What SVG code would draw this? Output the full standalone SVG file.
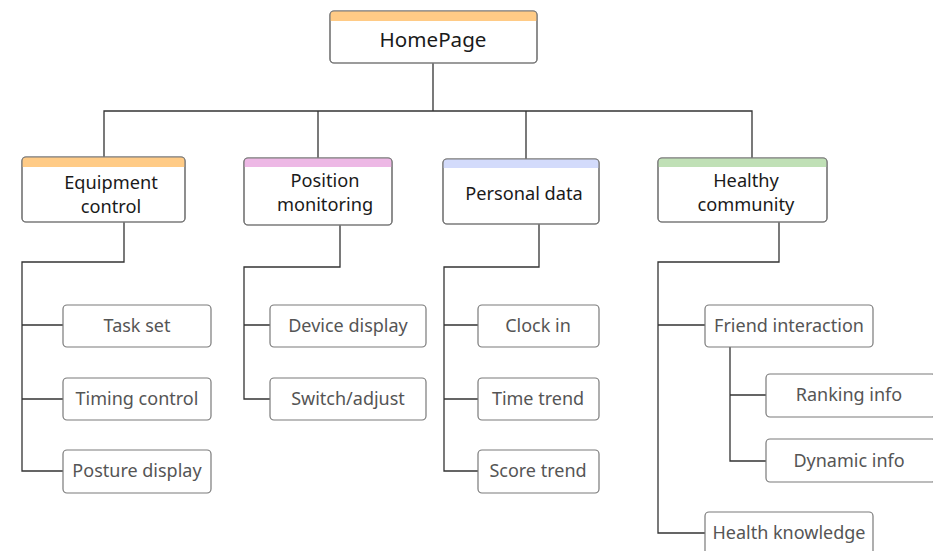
<svg xmlns="http://www.w3.org/2000/svg" width="933" height="551" viewBox="0 0 933 551">
<defs>
<style>
.bg{fill:#ffffff}
.box{fill:#ffffff;stroke:#7a7a7a;stroke-width:1.2}
.t0{font-family:"Noto Sans","Open Sans",sans-serif;font-size:20.6px;fill:#1a1a1a;text-anchor:middle}
.t1{font-family:"Noto Sans","Open Sans",sans-serif;font-size:18.2px;fill:#1a1a1a;text-anchor:middle}
.t2{font-family:"Noto Sans","Open Sans",sans-serif;font-size:18px;fill:#555555;text-anchor:middle}
.ln{fill:none;stroke:#333333;stroke-width:1.3}
</style>
<clipPath id="c0"><rect x="330" y="11" width="207" height="52" rx="4"/></clipPath>
<clipPath id="c1"><rect x="22" y="157" width="163" height="65" rx="4"/></clipPath>
<clipPath id="c2"><rect x="244" y="158" width="148" height="67" rx="4"/></clipPath>
<clipPath id="c3"><rect x="443" y="159" width="156" height="65" rx="4"/></clipPath>
<clipPath id="c4"><rect x="658" y="158" width="169" height="64" rx="4"/></clipPath>
</defs>
<rect class="bg" x="0" y="0" width="933" height="551"/>

<g id="connectors">
<path class="ln" d="M433 63 V111 M104 157 V111 H752 V158 M318 111 V158 M526 111 V159"/>
<path class="ln" d="M124 222 V262 H22 V471 H63 M22 325 H63 M22 399 H63"/>
<path class="ln" d="M340 225 V267 H244 V399 H270 M244 325 H270"/>
<path class="ln" d="M539 224 V267 H444 V471 H478 M444 325 H478 M444 399 H478"/>
<path class="ln" d="M779 222 V262 H658 V533 H705 M658 325 H705"/>
<path class="ln" d="M730 347 V461 H766 M730 395 H766"/>
</g>

<g id="homepage">
<rect class="box" x="330" y="11" width="207" height="52" rx="4"/>
<rect x="330" y="11" width="207" height="10" fill="#FFCB86" clip-path="url(#c0)"/>
<rect x="330" y="11" width="207" height="52" rx="4" fill="none" stroke="#7a7a7a" stroke-width="1.2"/>
<text class="t0" x="433" y="47">HomePage</text>
</g>

<g id="equipment-control">
<rect class="box" x="22" y="157" width="163" height="65" rx="4"/>
<rect x="22" y="157" width="163" height="10" fill="#FFCB86" clip-path="url(#c1)"/>
<rect x="22" y="157" width="163" height="65" rx="4" fill="none" stroke="#7a7a7a" stroke-width="1.2"/>
<text class="t1" x="111" y="189">Equipment</text>
<text class="t1" x="111" y="213">control</text>
</g>

<g id="position-monitoring">
<rect class="box" x="244" y="158" width="148" height="67" rx="4"/>
<rect x="244" y="158" width="148" height="9" fill="#EDB8E5" clip-path="url(#c2)"/>
<rect x="244" y="158" width="148" height="67" rx="4" fill="none" stroke="#7a7a7a" stroke-width="1.2"/>
<text class="t1" x="325" y="187">Position</text>
<text class="t1" x="325" y="211">monitoring</text>
</g>

<g id="personal-data">
<rect class="box" x="443" y="159" width="156" height="65" rx="4"/>
<rect x="443" y="159" width="156" height="9" fill="#D3DBFB" clip-path="url(#c3)"/>
<rect x="443" y="159" width="156" height="65" rx="4" fill="none" stroke="#7a7a7a" stroke-width="1.2"/>
<text class="t1" x="524" y="200">Personal data</text>
</g>

<g id="healthy-community">
<rect class="box" x="658" y="158" width="169" height="64" rx="4"/>
<rect x="658" y="158" width="169" height="9" fill="#C0E0B6" clip-path="url(#c4)"/>
<rect x="658" y="158" width="169" height="64" rx="4" fill="none" stroke="#7a7a7a" stroke-width="1.2"/>
<text class="t1" x="746" y="187">Healthy</text>
<text class="t1" x="746" y="211">community</text>
</g>

<g id="task-set"><rect class="box" x="63" y="305" width="148" height="42" rx="4"/><text class="t2" x="137" y="332">Task set</text></g>
<g id="timing-control"><rect class="box" x="63" y="378" width="148" height="42" rx="4"/><text class="t2" x="137" y="405">Timing control</text></g>
<g id="posture-display"><rect class="box" x="63" y="450" width="148" height="43" rx="4"/><text class="t2" x="137" y="477">Posture display</text></g>

<g id="device-display"><rect class="box" x="270" y="305" width="156" height="42" rx="4"/><text class="t2" x="348" y="332">Device display</text></g>
<g id="switch-adjust"><rect class="box" x="270" y="378" width="156" height="42" rx="4"/><text class="t2" x="348" y="405">Switch/adjust</text></g>

<g id="clock-in"><rect class="box" x="478" y="305" width="121" height="42" rx="4"/><text class="t2" x="538" y="332">Clock in</text></g>
<g id="time-trend"><rect class="box" x="478" y="378" width="121" height="42" rx="4"/><text class="t2" x="538" y="405">Time trend</text></g>
<g id="score-trend"><rect class="box" x="478" y="450" width="121" height="43" rx="4"/><text class="t2" x="538" y="477">Score trend</text></g>

<g id="friend-interaction"><rect class="box" x="705" y="305" width="168" height="42" rx="4"/><text class="t2" x="789" y="332">Friend interaction</text></g>
<g id="ranking-info"><rect class="box" x="766" y="374" width="170" height="43" rx="4"/><text class="t2" x="849" y="401">Ranking info</text></g>
<g id="dynamic-info"><rect class="box" x="766" y="439" width="170" height="43" rx="4"/><text class="t2" x="849" y="467">Dynamic info</text></g>
<g id="health-knowledge"><rect class="box" x="705" y="512" width="168" height="48" rx="4"/><text class="t2" x="789" y="539">Health knowledge</text></g>
</svg>
